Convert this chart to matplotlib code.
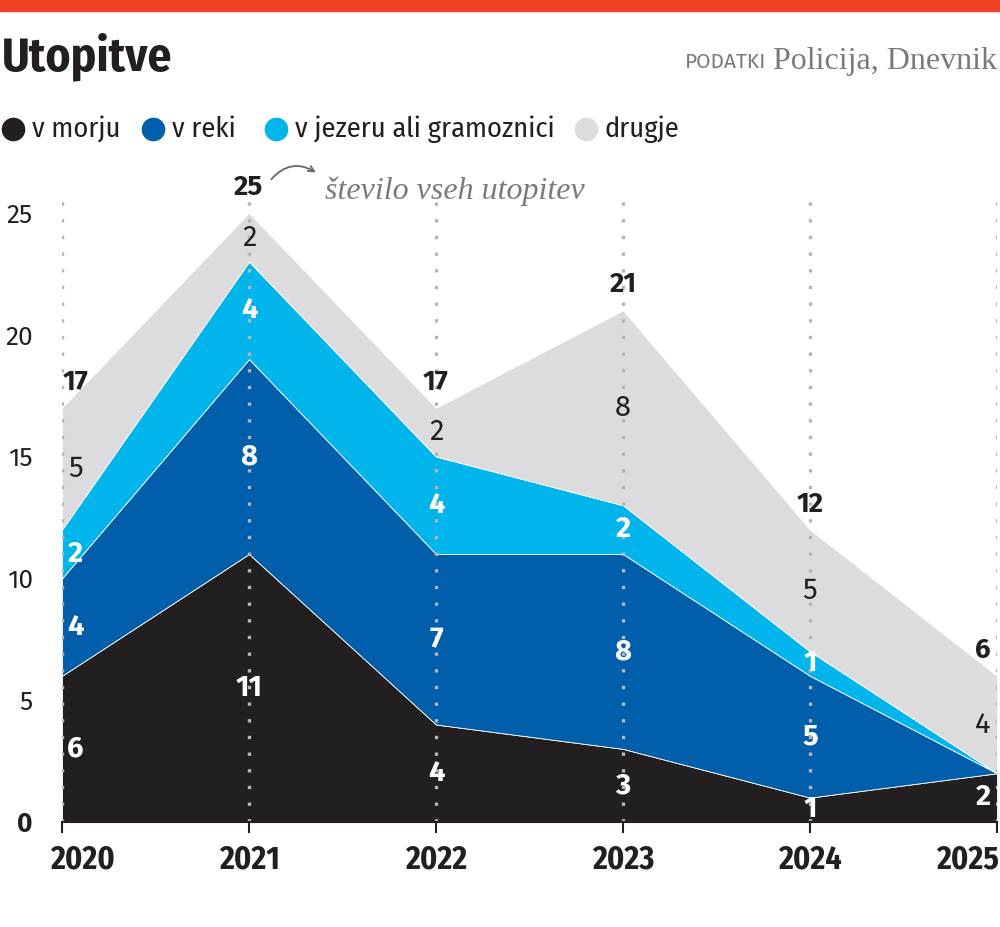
import matplotlib.pyplot as plt
import matplotlib.transforms as mtrans
from matplotlib.patches import Rectangle
import numpy as np

# data
years = [2020, 2021, 2022, 2023, 2024, 2025]
v_morju = [6, 11, 4, 3, 1, 2]
v_reki = [4, 8, 7, 8, 5, 0]
v_jezeru = [2, 4, 4, 2, 1, 0]
drugje = [5, 2, 2, 8, 5, 4]
series_names = ["v morju", "v reki", "v jezeru ali gramoznici", "drugje"]

colors = ["#231f20", "#005eab", "#00b5eb", "#dcdcde"]
label_colors = ["white", "white", "white", "#231f20"]
SANS = ["Fira Sans Condensed", "DejaVu Sans"]
SANS_W = ["Fira Sans", "DejaVu Sans"]
SERIF = ["Liberation Serif", "DejaVu Serif"]
DARK = "#231f20"
GREY = "#7a7a7a"

plt.rcParams["font.family"] = SANS

fig = plt.figure(figsize=(10, 9.27), dpi=100)
ax = fig.add_axes([0.062, 0.1133, 0.935, 0.6833])

layers = np.array([v_morju, v_reki, v_jezeru, drugje], dtype=float)
totals = layers.sum(axis=0)

ax.stackplot(years, layers, colors=colors, edgecolor="white", linewidth=0.6, zorder=1)

# dotted year lines
for yr in years:
    ax.axvline(yr, color="#b5b5b5", linestyle=(0, (1, 4)), linewidth=2.4, zorder=2)

# segment labels
bottoms = np.vstack([np.zeros(len(years)), np.cumsum(layers, axis=0)[:-1]])
for i, name in enumerate(series_names):
    for j, yr in enumerate(years):
        v = layers[i, j]
        if v == 0:
            continue
        ymid = bottoms[i, j] + v / 2
        x = yr
        if j == 0:
            x = yr + 0.07
        elif j == len(years) - 1:
            x = yr - 0.075
        weight = "normal" if i == 3 else "bold"
        ax.text(x, ymid, f"{int(v)}", color=label_colors[i], ha="center", va="center",
                fontsize=21, fontweight=weight, zorder=3, family=SANS_W)

# totals above the stack
for j, yr in enumerate(years):
    dx = 0.07 if j == 0 else (-0.075 if j == len(years) - 1 else 0)
    ax.annotate(f"{int(totals[j])}", (yr + dx, totals[j]), xytext=(0, 9),
                textcoords="offset points", ha="center", va="bottom",
                fontsize=20, fontweight="bold", color=DARK, family=SANS_W,
                annotation_clip=False, zorder=4)

# note with arrow
ax.annotate("", xy=(2021.37, 26.6), xytext=(2021.11, 26.3),
            arrowprops=dict(arrowstyle="->", color="#666666", lw=1.3,
                            connectionstyle="arc3,rad=-0.45"),
            annotation_clip=False)
ax.text(2021.405, 25.9, "število vseh utopitev", family=SERIF, style="italic",
        fontsize=23, color=GREY, ha="left", va="center", clip_on=False)

ax.set_xlim(2020, 2025)
ax.set_ylim(0, 26)
ax.set_xticks(years)
ax.set_xticklabels([str(y) for y in years], fontsize=23, fontweight="bold",
                   color=DARK, family=SANS)
ax.set_yticks([0, 5, 10, 15, 20, 25])
ax.set_yticklabels(["0", "5", "10", "15", "20", "25"], fontsize=19,
                   color=DARK, family=SANS_W)
ax.yaxis.get_ticklabels()[0].set_fontweight("bold")
ax.tick_params(axis="y", length=0, pad=21)
ax.tick_params(axis="x", length=8, width=1.5, color=DARK, pad=8)
xl = ax.get_xticklabels()
xl[0].set_transform(xl[0].get_transform() + mtrans.ScaledTranslation(20 / 100, 0, fig.dpi_scale_trans))
xl[-1].set_transform(xl[-1].get_transform() + mtrans.ScaledTranslation(-30 / 100, 0, fig.dpi_scale_trans))
for s in ["top", "right", "left"]:
    ax.spines[s].set_visible(False)
ax.spines["bottom"].set_linewidth(1.5)
ax.spines["bottom"].set_color(DARK)
ax.set_facecolor("none")

# header
fig.patches.append(Rectangle((0, 1 - 11 / 927), 1, 11 / 927, transform=fig.transFigure,
                             color="#ef4123", zorder=5))
fig.text(0.002, 1 - 57 / 927, "Utopitve", fontsize=34, fontweight="bold",
         color=DARK, ha="left", va="center", family=SANS)
fig.text(0.997, 1 - 62 / 927, "Policija, Dnevnik", fontsize=23, color=GREY,
         ha="right", va="center", family=SERIF)
fig.text(0.766, 1 - 62 / 927, "PODATKI", fontsize=15, color=GREY,
         ha="right", va="center", family=SANS_W)

# legend
leg_x = [0.013, 0.153, 0.276, 0.586]
for k, name in enumerate(series_names):
    fig.lines.append(plt.Line2D([leg_x[k]], [1 - 129 / 927], marker="o", markersize=16,
                                color=colors[k], transform=fig.transFigure))
    fig.text(leg_x[k] + 0.019, 1 - 129 / 927, name, fontsize=20.5, color=DARK,
             ha="left", va="center", family=SANS)

fig.savefig("out.png", dpi=100)
